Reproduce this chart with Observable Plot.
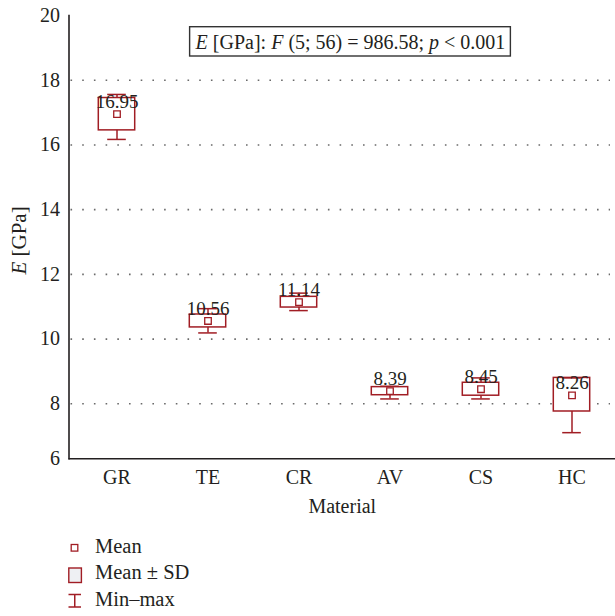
<!DOCTYPE html>
<html>
<head>
<meta charset="utf-8">
<script src="https://cdn.jsdelivr.net/npm/d3@7"></script>
<script src="https://cdn.jsdelivr.net/npm/@observablehq/plot@0.6"></script>
<style>
  html, body { margin: 0; padding: 0; background: #fff; }
  #chart { position: relative; width: 615px; }
  svg { display: block; }
</style>
</head>
<body>
<div id="chart"></div>
<script>
// Young's modulus by material: mean, SD and range
const categories = ["GR", "TE", "CR", "AV", "CS", "HC"];
const means = [16.95, 10.56, 11.14, 8.39, 8.45, 8.26];
const sds = [0.50, 0.20, 0.165, 0.125, 0.20, 0.54];
const mins = [16.17, 10.19, 10.88, 8.15, 8.15, 6.95];
const maxs = [17.56, 10.94, 11.42, 8.54, 8.80, 8.80];

const yTicks = [6, 8, 10, 12, 14, 16, 18, 20];
const gridTicks = [8, 10, 12, 14, 16, 18];
const xTitle = "Material";
const legendLabels = ["Mean", "Mean \u00b1 SD", "Min\u2013max"];

const rows = categories.map((c, i) => ({
  material: c, mean: means[i], sd: sds[i], min: mins[i], max: maxs[i]
}));

const red = "#a11d24";
const ink = "#231f20";
const serif = "'Liberation Serif', 'Times New Roman', serif";

const W = 615, H = 525;

// The bottom interval of the axis (6–8) is drawn shorter than the others
const lowRatio = 0.85;
const squeeze = v => (v >= 8 ? v : 8 - (8 - v) * lowRatio);

const plot = Plot.plot({
  width: W,
  height: H,
  marginLeft: 68.5,
  marginRight: 0,
  marginTop: 15,
  marginBottom: H - 458.3,
  style: { fontFamily: serif, fontSize: "20px", color: ink, background: "white", overflow: "visible" },
  x: { domain: categories, range: [68.5, 618.5], padding: 0 },
  y: { transform: squeeze, domain: [squeeze(6), 20], range: [458.3, 15] },
  marks: [
    Plot.ruleY(gridTicks, { stroke: "#6a6a6a", strokeWidth: 1.6, strokeDasharray: "1.6 10.1", insetLeft: 2, insetRight: 5 }),
    Plot.ruleX(rows, { x: "material", y1: "min", y2: "max", stroke: red, strokeWidth: 1.5 }),
    Plot.barY(rows, { x: "material", y1: d => d.mean - d.sd, y2: d => d.mean + d.sd, fill: "white", stroke: red, strokeWidth: 1.5, insetLeft: 27.3, insetRight: 27.3 }),
    Plot.tickY(rows, { x: "material", y: "min", stroke: red, strokeWidth: 1.5, insetLeft: 36.2, insetRight: 36.2 }),
    Plot.tickY(rows, { x: "material", y: "max", stroke: red, strokeWidth: 1.5, insetLeft: 36.2, insetRight: 36.2 }),
    Plot.dot(rows, { x: "material", y: "mean", symbol: "square", r: 3.7, stroke: red, fill: "white", strokeWidth: 1.3 }),
    Plot.text(rows, { x: "material", y: "mean", text: d => d.mean.toFixed(2), lineAnchor: "bottom", dy: -6, fontSize: 19, fill: ink }),
    Plot.axisY(yTicks, { tickSize: 0, tickPadding: 9, label: null, fontSize: 20, fill: ink }),
    Plot.axisX({ tickSize: 0, tickPadding: 11, label: null, fontSize: 20, fill: ink }),
    Plot.ruleY([6], { stroke: ink, strokeWidth: 1.6 }),
    Plot.frame({ anchor: "left", stroke: ink, strokeWidth: 1.6 }),
    Plot.text([xTitle], { frameAnchor: "bottom", dy: 48, lineAnchor: "middle", fontSize: 20, fill: ink })
  ]
});

const chart = document.getElementById("chart");
chart.appendChild(plot);

const svg = d3.select(plot);

// Boxed statistics header inside the plot area
const head = svg.append("g");
const headText = head.append("text")
  .attr("x", 350.5).attr("y", 49)
  .attr("text-anchor", "middle")
  .attr("font-family", serif).attr("font-size", 20).attr("fill", ink);
[["E", true], [" [GPa]: ", false], ["F", true], [" (5; 56) = 986.58; ", false], ["p", true], [" < 0.001", false]]
  .forEach(([t, it]) => headText.append("tspan").attr("font-style", it ? "italic" : "normal").text(t));
const bb = headText.node().getBBox();
head.insert("rect", "text")
  .attr("x", bb.x - 5).attr("y", 26.7)
  .attr("width", bb.width + 10).attr("height", 29.3)
  .attr("fill", "white").attr("stroke", "#333").attr("stroke-width", 1.4);

// Rotated y-axis title
const yTitle = svg.append("text")
  .attr("transform", "translate(26,240.5) rotate(-90)")
  .attr("text-anchor", "middle")
  .attr("font-family", serif).attr("font-size", 21).attr("fill", ink);
yTitle.append("tspan").attr("font-style", "italic").text("E");
yTitle.append("tspan").text(" [GPa]");

// Legend below the chart
const leg = d3.select(chart).append("svg")
  .attr("width", W).attr("height", 91)
  .style("font-family", serif);
const rowY = [28.3, 54.3, 81];
leg.append("rect").attr("x", 71.2).attr("y", 19.5).attr("width", 6.6).attr("height", 6.6)
  .attr("fill", "white").attr("stroke", red).attr("stroke-width", 1.3);
leg.append("rect").attr("x", 68.8).attr("y", 43).attr("width", 12.6).attr("height", 14.5)
  .attr("fill", "#eef0f3").attr("stroke", red).attr("stroke-width", 1.4);
leg.append("path")
  .attr("d", "M68.5,69.5H81M74.75,69.5V82M68.5,82H81")
  .attr("fill", "none").attr("stroke", red).attr("stroke-width", 1.5);
legendLabels.forEach((t, i) => {
  leg.append("text").attr("x", 95).attr("y", rowY[i])
    .attr("font-size", 20.5).attr("fill", ink).text(t);
});
</script>
</body>
</html>
